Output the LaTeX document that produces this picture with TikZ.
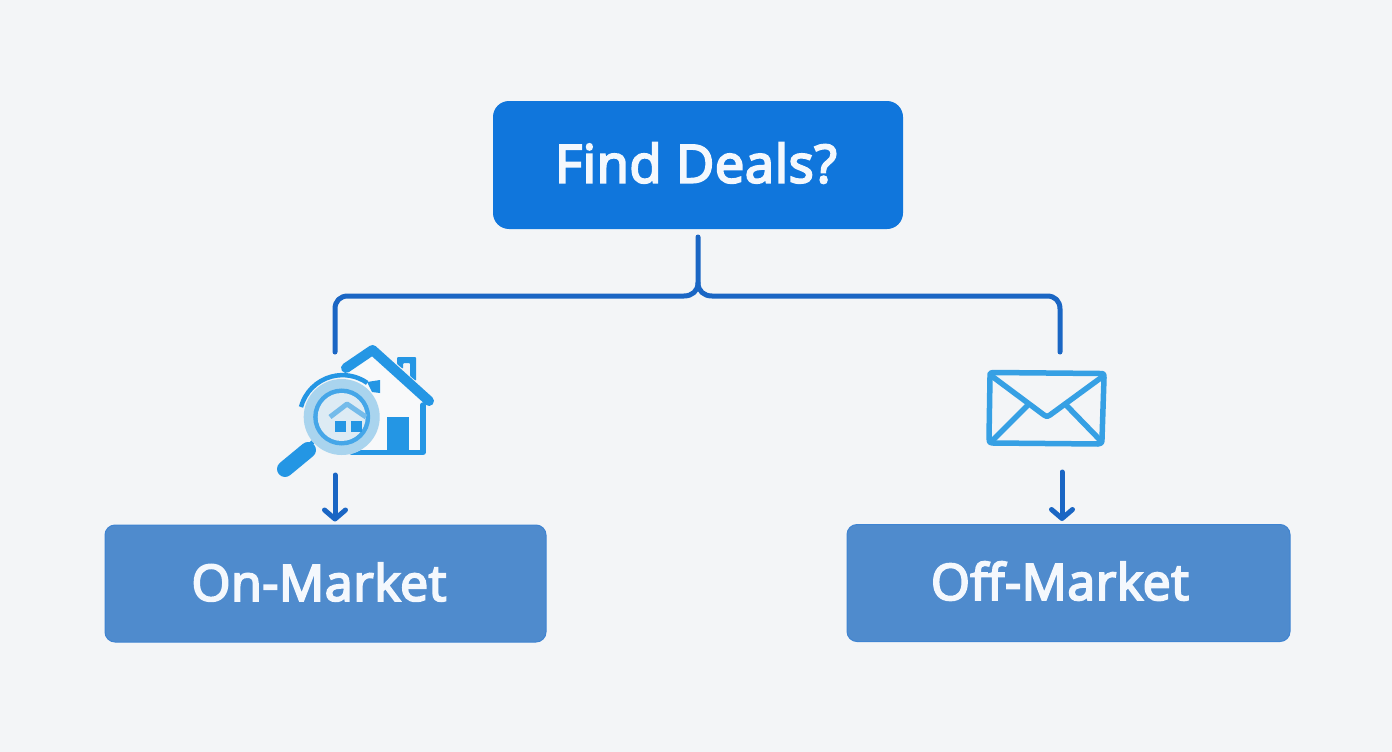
\documentclass[tikz,border=0pt]{standalone}
\usepackage{fontspec}
\setmainfont{Open Sans}[FakeBold=4]
\newfontfamily\widelabel{Open Sans}[FakeBold=4,LetterSpace=1.2]
\usetikzlibrary{arrows.meta,calc}
\definecolor{bgc}{HTML}{F3F5F7}
\definecolor{topc}{HTML}{1076DC}
\definecolor{subc}{HTML}{4F8BCD}
\definecolor{subb}{HTML}{3F84D2}
\definecolor{linec}{HTML}{1A66C4}
\definecolor{iconc}{HTML}{2496E4}
\definecolor{ringc}{HTML}{A9D4EE}
\definecolor{envc}{HTML}{36A0E4}
\definecolor{txtc}{HTML}{F4F8FD}
\tikzset{
 topbox/.style={fill=topc,rounded corners=16pt,minimum width=410pt,minimum height=128pt,inner sep=0pt},
 subbox/.style={fill=subc,draw=subb,line width=1pt,rounded corners=10pt,minimum height=117pt,inner sep=0pt},
 toplabel/.style={text=txtc,font=\widelabel\fontsize{52.5}{60}\selectfont,inner sep=0pt},
 sublabel/.style={text=txtc,font=\widelabel\fontsize{50}{60}\selectfont,inner sep=0pt},
 wire/.style={draw=linec,line width=5pt,line cap=round,line join=round},
 arrowwire/.style={wire,shorten >=3pt,-{Straight Barb[length=9pt,width=21pt,line width=5pt,round]}},
 icon/.style={draw=iconc,line width=6pt,line join=round,line cap=round},
 env/.style={draw=envc,line width=5.5pt,line join=round,line cap=round}
}
\begin{document}
\begin{tikzpicture}[x=1pt,y=-1pt]
\useasboundingbox[fill=bgc] (0,0) rectangle (1392,752);
\node[topbox] (top) at (698,165) {};
\node[toplabel] (toptext) at (696,163) {Find Deals?};
\node[subbox,minimum width=441pt] (on) at (325.5,583.5) {};
\node[sublabel] (ontext) at (319,582) {On-Market};
\node[subbox,minimum width=443pt] (off) at (1068.5,583) {};
\node[sublabel] (offtext) at (1060,581) {Off-Market};
\coordinate (topout) at (698,237);
\coordinate (hub) at (698,283);
\coordinate (onicon) at (335,352);
\coordinate (officon) at (1060,352);
\coordinate (onbelow) at (335,475);
\coordinate (offbelow) at (1062,472);
% connectors
\draw[wire] (topout) -- (hub) .. controls (698,291) and (692,296) .. (684,296) -- (348,296) .. controls (340,296) and (335,301) .. (335,309) -- (onicon);
\draw[wire] (hub) .. controls (698,291) and (704,296) .. (712,296) -- (1047,296) .. controls (1055,296) and (1060,301) .. (1060,309) -- (officon);
\draw[arrowwire] (onbelow) -- (onbelow |- on.north);
\draw[arrowwire] (offbelow) -- (offbelow |- off.north);
% house icon
\fill[bgc!60!white] (372,352) -- (424,402) -- (424,453) -- (345,453) -- (345,375) -- cycle;
\draw[icon,line width=10pt] (346,368) -- (372.5,350) -- (429,401);
\fill[iconc,rounded corners=1pt] (397,357) -- (416,357) -- (416,381) -- (410,376) -- (410,363) -- (403,363) -- (403,369) -- (397,364) -- cycle;
\draw[icon,line width=5.5pt] (423,405) -- (423,452.5) -- (352,452.5);
\fill[iconc] (387,417) rectangle (409,452);
\fill[iconc] (367,382) -- (380,380) -- (380,393) -- (372,392) -- cycle;
% magnifier
\draw[iconc,line width=16pt,line cap=round] (285,469) -- (308,450);
\draw[iconc,line width=4pt] (307,447) -- (314,441);
\fill[bgc] (341.7,417) circle (38);
\draw[iconc,line width=4.5pt] (301,407) arc[start angle=195,end angle=305,radius=43];
\draw[ringc,line width=10pt] (341.7,417) circle (33);
\draw[iconc!85!white,line width=5pt] (341.7,417) circle (26);
\fill[bgc!70!ringc] (341.7,417) circle (24);
\draw[ringc!60!iconc,line width=5pt,line join=round] (330,417) -- (347,404) -- (366,417);
\fill[iconc] (335,421) rectangle (346,432);
\fill[iconc] (351,421) rectangle (362,432);
% envelope
\draw[env] (993,372.5) -- (1100,373.5) .. controls (1104,373.5) and (1104,374) .. (1104,378) -- (1102,439) .. controls (1102,443) and (1101,444) .. (1098,444) -- (993,443) .. controls (989,443) and (989,441) .. (989,438) -- (990,377) .. controls (990,373) and (990,372.5) .. (993,372.5) -- cycle;
\draw[env] (993,377) -- (1044,415) .. controls (1046,417) and (1048,417) .. (1050,415) -- (1102,377);
\draw[env] (1027,406) -- (993,440);
\draw[env] (1067,406) -- (1100,440);
\end{tikzpicture}
\end{document}
